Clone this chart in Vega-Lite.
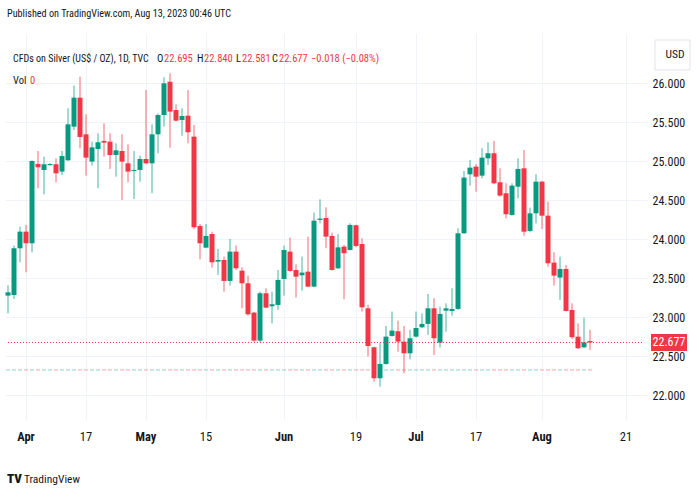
{
  "$schema": "https://vega.github.io/schema/vega-lite/v6.json",
  "width": 642,
  "height": 387,
  "autosize": {"type": "none"},
  "padding": {"left": 5, "top": 33, "right": 53, "bottom": 80},
  "background": "white",
  "config": {"view": {"stroke": null}, "font": "Liberation Sans Narrow, Roboto Condensed, DejaVu Sans Condensed, Liberation Sans, sans-serif"},
  "title": {"text": "Published on TradingView.com, Aug 13, 2023 00:46 UTC", "anchor": "start", "frame": "group", "offset": 6, "baseline": "alphabetic", "fontSize": 10.2, "fontWeight": "normal", "color": "#131722", "dx": 2},
  "data": {"values": [
    {"d":"2023-03-29","o":23.278,"h":23.41,"l":23.05,"c":23.32},
    {"d":"2023-03-30","o":23.286,"h":23.919,"l":23.235,"c":23.885},
    {"d":"2023-03-31","o":23.885,"h":24.162,"l":23.705,"c":24.098},
    {"d":"2023-04-03","o":24.098,"h":24.184,"l":23.577,"c":23.949},
    {"d":"2023-04-04","o":23.949,"h":25.013,"l":23.833,"c":25.004},
    {"d":"2023-04-05","o":24.966,"h":25.132,"l":24.654,"c":24.923},
    {"d":"2023-04-06","o":24.889,"h":25.06,"l":24.577,"c":24.962},
    {"d":"2023-04-07","o":24.95,"h":24.975,"l":24.945,"c":24.965},
    {"d":"2023-04-10","o":24.962,"h":25.038,"l":24.731,"c":24.846},
    {"d":"2023-04-11","o":24.868,"h":25.132,"l":24.825,"c":25.068},
    {"d":"2023-04-12","o":25.013,"h":25.679,"l":25.004,"c":25.474},
    {"d":"2023-04-13","o":25.444,"h":25.97,"l":25.402,"c":25.816},
    {"d":"2023-04-14","o":25.816,"h":26.085,"l":25.167,"c":25.312},
    {"d":"2023-04-17","o":25.346,"h":25.603,"l":24.816,"c":25.047},
    {"d":"2023-04-18","o":24.996,"h":25.252,"l":24.944,"c":25.179},
    {"d":"2023-04-19","o":25.158,"h":25.359,"l":24.654,"c":25.244},
    {"d":"2023-04-20","o":25.261,"h":25.487,"l":25.06,"c":25.239},
    {"d":"2023-04-21","o":25.252,"h":25.359,"l":24.902,"c":25.081},
    {"d":"2023-04-24","o":25.081,"h":25.231,"l":24.803,"c":25.141},
    {"d":"2023-04-25","o":25.132,"h":25.346,"l":24.504,"c":24.996},
    {"d":"2023-04-26","o":24.974,"h":25.218,"l":24.731,"c":24.868},
    {"d":"2023-04-27","o":24.876,"h":25.132,"l":24.517,"c":24.889},
    {"d":"2023-04-28","o":24.889,"h":25.073,"l":24.739,"c":25.03},
    {"d":"2023-05-01","o":25.03,"h":25.915,"l":24.962,"c":24.974},
    {"d":"2023-05-02","o":24.974,"h":25.474,"l":24.59,"c":25.346},
    {"d":"2023-05-03","o":25.346,"h":25.615,"l":25.103,"c":25.594},
    {"d":"2023-05-04","o":25.594,"h":26.077,"l":25.444,"c":26.0},
    {"d":"2023-05-05","o":26.02,"h":26.128,"l":25.175,"c":25.637},
    {"d":"2023-05-08","o":25.658,"h":25.731,"l":25.509,"c":25.521},
    {"d":"2023-05-09","o":25.53,"h":25.679,"l":25.329,"c":25.581},
    {"d":"2023-05-10","o":25.585,"h":25.915,"l":25.231,"c":25.372},
    {"d":"2023-05-11","o":25.316,"h":25.466,"l":24.132,"c":24.154},
    {"d":"2023-05-12","o":24.171,"h":24.197,"l":23.744,"c":23.949},
    {"d":"2023-05-15","o":23.893,"h":24.197,"l":23.885,"c":24.043},
    {"d":"2023-05-16","o":24.068,"h":24.098,"l":23.637,"c":23.705},
    {"d":"2023-05-17","o":23.714,"h":23.876,"l":23.543,"c":23.735},
    {"d":"2023-05-18","o":23.735,"h":23.778,"l":23.329,"c":23.466},
    {"d":"2023-05-19","o":23.466,"h":24.004,"l":23.406,"c":23.842},
    {"d":"2023-05-22","o":23.842,"h":23.919,"l":23.607,"c":23.628},
    {"d":"2023-05-23","o":23.598,"h":23.641,"l":23.115,"c":23.436},
    {"d":"2023-05-24","o":23.436,"h":23.534,"l":23.021,"c":23.038},
    {"d":"2023-05-25","o":23.06,"h":23.07,"l":22.688,"c":22.701},
    {"d":"2023-05-26","o":22.701,"h":23.329,"l":22.679,"c":23.308},
    {"d":"2023-05-29","o":23.308,"h":23.372,"l":23.115,"c":23.124},
    {"d":"2023-05-30","o":23.141,"h":23.329,"l":22.923,"c":23.167},
    {"d":"2023-05-31","o":23.158,"h":23.607,"l":23.094,"c":23.479},
    {"d":"2023-06-01","o":23.491,"h":23.919,"l":23.278,"c":23.863},
    {"d":"2023-06-02","o":23.842,"h":24.021,"l":23.585,"c":23.594},
    {"d":"2023-06-05","o":23.607,"h":23.679,"l":23.252,"c":23.521},
    {"d":"2023-06-06","o":23.538,"h":23.778,"l":23.342,"c":23.573},
    {"d":"2023-06-07","o":23.585,"h":24.034,"l":23.385,"c":23.393},
    {"d":"2023-06-08","o":23.393,"h":24.342,"l":23.385,"c":24.239},
    {"d":"2023-06-09","o":24.248,"h":24.513,"l":24.205,"c":24.265},
    {"d":"2023-06-12","o":24.274,"h":24.41,"l":23.885,"c":24.034},
    {"d":"2023-06-13","o":24.043,"h":24.085,"l":23.598,"c":23.607},
    {"d":"2023-06-14","o":23.628,"h":24.068,"l":23.62,"c":23.897},
    {"d":"2023-06-15","o":23.906,"h":23.927,"l":23.231,"c":23.821},
    {"d":"2023-06-16","o":23.863,"h":24.205,"l":23.855,"c":24.184},
    {"d":"2023-06-19","o":24.18,"h":24.188,"l":23.897,"c":23.915},
    {"d":"2023-06-20","o":23.94,"h":24.013,"l":23.072,"c":23.128},
    {"d":"2023-06-21","o":23.115,"h":23.158,"l":22.496,"c":22.632},
    {"d":"2023-06-22","o":22.615,"h":22.624,"l":22.175,"c":22.218},
    {"d":"2023-06-23","o":22.218,"h":22.675,"l":22.111,"c":22.402},
    {"d":"2023-06-26","o":22.402,"h":22.889,"l":22.39,"c":22.752},
    {"d":"2023-06-27","o":22.761,"h":23.073,"l":22.752,"c":22.829},
    {"d":"2023-06-28","o":22.821,"h":22.957,"l":22.56,"c":22.688},
    {"d":"2023-06-29","o":22.688,"h":22.889,"l":22.282,"c":22.538},
    {"d":"2023-06-30","o":22.538,"h":22.838,"l":22.462,"c":22.731},
    {"d":"2023-07-03","o":22.752,"h":23.073,"l":22.74,"c":22.863},
    {"d":"2023-07-04","o":22.872,"h":23.051,"l":22.86,"c":22.915},
    {"d":"2023-07-05","o":22.915,"h":23.299,"l":22.774,"c":23.115},
    {"d":"2023-07-06","o":23.115,"h":23.244,"l":22.517,"c":22.731},
    {"d":"2023-07-07","o":22.675,"h":23.137,"l":22.615,"c":23.043},
    {"d":"2023-07-10","o":23.085,"h":23.179,"l":22.816,"c":23.115},
    {"d":"2023-07-11","o":23.081,"h":23.372,"l":23.021,"c":23.107},
    {"d":"2023-07-12","o":23.107,"h":24.141,"l":23.094,"c":24.077},
    {"d":"2023-07-13","o":24.077,"h":24.876,"l":24.07,"c":24.791},
    {"d":"2023-07-14","o":24.833,"h":25.017,"l":24.688,"c":24.919},
    {"d":"2023-07-17","o":24.932,"h":24.962,"l":24.611,"c":24.803},
    {"d":"2023-07-18","o":24.816,"h":25.167,"l":24.782,"c":25.047},
    {"d":"2023-07-19","o":25.038,"h":25.244,"l":24.953,"c":25.103},
    {"d":"2023-07-20","o":25.103,"h":25.261,"l":24.706,"c":24.718},
    {"d":"2023-07-21","o":24.731,"h":24.91,"l":24.547,"c":24.56},
    {"d":"2023-07-24","o":24.59,"h":24.718,"l":24.269,"c":24.321},
    {"d":"2023-07-25","o":24.312,"h":24.718,"l":24.303,"c":24.688},
    {"d":"2023-07-26","o":24.675,"h":25.038,"l":24.526,"c":24.902},
    {"d":"2023-07-27","o":24.91,"h":25.145,"l":24.047,"c":24.098},
    {"d":"2023-07-28","o":24.107,"h":24.406,"l":24.09,"c":24.333},
    {"d":"2023-07-31","o":24.333,"h":24.833,"l":24.205,"c":24.739},
    {"d":"2023-08-01","o":24.739,"h":24.748,"l":24.132,"c":24.303},
    {"d":"2023-08-02","o":24.303,"h":24.483,"l":23.65,"c":23.692},
    {"d":"2023-08-03","o":23.701,"h":23.833,"l":23.406,"c":23.534},
    {"d":"2023-08-04","o":23.509,"h":23.778,"l":23.222,"c":23.62},
    {"d":"2023-08-07","o":23.62,"h":23.671,"l":23.075,"c":23.081},
    {"d":"2023-08-08","o":23.094,"h":23.179,"l":22.722,"c":22.744},
    {"d":"2023-08-09","o":22.752,"h":22.923,"l":22.594,"c":22.603},
    {"d":"2023-08-10","o":22.615,"h":22.996,"l":22.603,"c":22.679},
    {"d":"2023-08-11","o":22.695,"h":22.84,"l":22.581,"c":22.677}
  ]},
  "layer": [
    {
      "encoding": {
        "x": {
          "field": "d", "type": "ordinal",
          "scale": {"paddingInner": 0, "paddingOuter": 0, "domain": [
            "2023-03-29","2023-03-30","2023-03-31",
            "2023-04-03","2023-04-04","2023-04-05","2023-04-06","2023-04-07","2023-04-10","2023-04-11","2023-04-12","2023-04-13","2023-04-14","2023-04-17","2023-04-18","2023-04-19","2023-04-20","2023-04-21","2023-04-24","2023-04-25","2023-04-26","2023-04-27","2023-04-28",
            "2023-05-01","2023-05-02","2023-05-03","2023-05-04","2023-05-05","2023-05-08","2023-05-09","2023-05-10","2023-05-11","2023-05-12","2023-05-15","2023-05-16","2023-05-17","2023-05-18","2023-05-19","2023-05-22","2023-05-23","2023-05-24","2023-05-25","2023-05-26","2023-05-29","2023-05-30","2023-05-31",
            "2023-06-01","2023-06-02","2023-06-05","2023-06-06","2023-06-07","2023-06-08","2023-06-09","2023-06-12","2023-06-13","2023-06-14","2023-06-15","2023-06-16","2023-06-19","2023-06-20","2023-06-21","2023-06-22","2023-06-23","2023-06-26","2023-06-27","2023-06-28","2023-06-29","2023-06-30",
            "2023-07-03","2023-07-04","2023-07-05","2023-07-06","2023-07-07","2023-07-10","2023-07-11","2023-07-12","2023-07-13","2023-07-14","2023-07-17","2023-07-18","2023-07-19","2023-07-20","2023-07-21","2023-07-24","2023-07-25","2023-07-26","2023-07-27","2023-07-28","2023-07-31",
            "2023-08-01","2023-08-02","2023-08-03","2023-08-04","2023-08-07","2023-08-08","2023-08-09","2023-08-10","2023-08-11","2023-08-14","2023-08-15","2023-08-16","2023-08-17","2023-08-18","2023-08-21","2023-08-22","2023-08-23","2023-08-24"
          ]},
          "axis": {
            "values": ["2023-04-03","2023-04-17","2023-05-01","2023-05-15","2023-06-01","2023-06-19","2023-07-03","2023-07-17","2023-08-01","2023-08-21"],
            "labelExpr": "datum.value=='2023-04-03'?'Apr':datum.value=='2023-05-01'?'May':datum.value=='2023-06-01'?'Jun':datum.value=='2023-07-03'?'Jul':datum.value=='2023-08-01'?'Aug':slice(datum.value,8)",
            "labelFontWeight": {"condition": {"test": "indexof(['2023-04-03','2023-05-01','2023-06-01','2023-07-03','2023-08-01'], datum.value) >= 0", "value": "bold"}, "value": "normal"},
            "title": null, "domain": false, "ticks": false, "tickSize": 0,
            "grid": true, "gridColor": "#f0f3fa", "gridOpacity": 1, "bandPosition": 0.5,
            "labelAngle": 0, "labelPadding": 10, "labelFontSize": 12.5, "labelColor": "#131722"
          }
        }
      },
      "layer": [
        {
          "mark": {"type": "tick", "size": 4, "thickness": 1, "opacity": 0.45},
          "encoding": {
            "y": {"datum": 22.325, "type": "quantitative", "scale": {"domain": [21.683, 26.645], "nice": false, "zero": false},
              "axis": {"values": [22, 22.5, 23, 23.5, 24, 24.5, 25, 25.5, 26], "format": ".3f", "orient": "right", "title": null, "domain": false, "ticks": false, "tickSize": 0, "labelPadding": 5, "grid": true, "gridColor": "#f0f3fa", "gridOpacity": 1, "labelFontSize": 12, "labelColor": "#131722"}},
            "color": {"condition": {"test": "datum.c >= datum.o", "value": "#089981"}, "value": "#f23645"}
          }
        },
        {
          "mark": {"type": "rule", "strokeWidth": 1, "opacity": 0.75},
          "encoding": {
            "y": {"field": "l", "type": "quantitative", "scale": {"domain": [21.683, 26.645], "nice": false, "zero": false}},
            "y2": {"field": "h"},
            "color": {"condition": {"test": "datum.c >= datum.o", "value": "#089981"}, "value": "#f23645"}
          }
        },
        {
          "mark": {"type": "bar", "width": 5},
          "encoding": {
            "y": {"field": "o", "type": "quantitative", "scale": {"domain": [21.683, 26.645], "nice": false, "zero": false}},
            "y2": {"field": "c"},
            "color": {"condition": {"test": "datum.c >= datum.o", "value": "#089981"}, "value": "#f23645"}
          }
        }
      ]
    },
    {
      "data": {"values": [{}]},
      "mark": {"type": "rule", "strokeDash": [1, 2], "color": "#f23645", "strokeWidth": 1},
      "encoding": {
        "x": {"datum": "2023-03-29", "type": "ordinal"},
        "x2": {"datum": "2023-08-24"},
        "y": {"datum": 22.677, "type": "quantitative"}
      }
    },
    {
      "data": {"values": [{}]},
      "mark": {"type": "text", "text": "CFDs on Silver (US$ / OZ), 1D, TVC", "align": "left", "baseline": "alphabetic", "dx": 5, "fontSize": 10, "color": "#131722"},
      "encoding": {"x": {"datum": "2023-03-29", "type": "ordinal"}, "y": {"datum": 26.273, "type": "quantitative"}}
    },
    {
      "data": {"values": [{}]},
      "mark": {"type": "text", "text": "O", "align": "left", "baseline": "alphabetic", "dx": 149, "fontSize": 10.5, "color": "#131722"},
      "encoding": {"x": {"datum": "2023-03-29", "type": "ordinal"}, "y": {"datum": 26.273, "type": "quantitative"}}
    },
    {
      "data": {"values": [{}]},
      "mark": {"type": "text", "text": "22.695", "align": "left", "baseline": "alphabetic", "dx": 156, "fontSize": 10.5, "color": "#f23645"},
      "encoding": {"x": {"datum": "2023-03-29", "type": "ordinal"}, "y": {"datum": 26.273, "type": "quantitative"}}
    },
    {
      "data": {"values": [{}]},
      "mark": {"type": "text", "text": "H", "align": "left", "baseline": "alphabetic", "dx": 189, "fontSize": 10.5, "color": "#131722"},
      "encoding": {"x": {"datum": "2023-03-29", "type": "ordinal"}, "y": {"datum": 26.273, "type": "quantitative"}}
    },
    {
      "data": {"values": [{}]},
      "mark": {"type": "text", "text": "22.840", "align": "left", "baseline": "alphabetic", "dx": 196, "fontSize": 10.5, "color": "#f23645"},
      "encoding": {"x": {"datum": "2023-03-29", "type": "ordinal"}, "y": {"datum": 26.273, "type": "quantitative"}}
    },
    {
      "data": {"values": [{}]},
      "mark": {"type": "text", "text": "L", "align": "left", "baseline": "alphabetic", "dx": 228, "fontSize": 10.5, "color": "#131722"},
      "encoding": {"x": {"datum": "2023-03-29", "type": "ordinal"}, "y": {"datum": 26.273, "type": "quantitative"}}
    },
    {
      "data": {"values": [{}]},
      "mark": {"type": "text", "text": "22.581", "align": "left", "baseline": "alphabetic", "dx": 234, "fontSize": 10.5, "color": "#f23645"},
      "encoding": {"x": {"datum": "2023-03-29", "type": "ordinal"}, "y": {"datum": 26.273, "type": "quantitative"}}
    },
    {
      "data": {"values": [{}]},
      "mark": {"type": "text", "text": "C", "align": "left", "baseline": "alphabetic", "dx": 264, "fontSize": 10.5, "color": "#131722"},
      "encoding": {"x": {"datum": "2023-03-29", "type": "ordinal"}, "y": {"datum": 26.273, "type": "quantitative"}}
    },
    {
      "data": {"values": [{}]},
      "mark": {"type": "text", "text": "22.677", "align": "left", "baseline": "alphabetic", "dx": 271, "fontSize": 10.5, "color": "#f23645"},
      "encoding": {"x": {"datum": "2023-03-29", "type": "ordinal"}, "y": {"datum": 26.273, "type": "quantitative"}}
    },
    {
      "data": {"values": [{}]},
      "mark": {"type": "text", "text": "−0.018 (−0.08%)", "align": "left", "baseline": "alphabetic", "dx": 303, "fontSize": 10.5, "color": "#f23645"},
      "encoding": {"x": {"datum": "2023-03-29", "type": "ordinal"}, "y": {"datum": 26.273, "type": "quantitative"}}
    },
    {
      "data": {"values": [{}]},
      "mark": {"type": "text", "text": "Vol", "align": "left", "baseline": "alphabetic", "dx": 5, "fontSize": 10.5, "color": "#131722"},
      "encoding": {"x": {"datum": "2023-03-29", "type": "ordinal"}, "y": {"datum": 25.985, "type": "quantitative"}}
    },
    {
      "data": {"values": [{}]},
      "mark": {"type": "text", "text": "0", "align": "left", "baseline": "alphabetic", "dx": 22, "fontSize": 10.5, "color": "#f23645"},
      "encoding": {"x": {"datum": "2023-03-29", "type": "ordinal"}, "y": {"datum": 25.985, "type": "quantitative"}}
    },
    {
      "data": {"values": [{}]},
      "mark": {"type": "point", "shape": "M0.14,-0.17H0.86V0.17H0.14Z", "size": 10000, "filled": true, "color": "#f23645", "opacity": 1, "strokeWidth": 0},
      "encoding": {"x": {"datum": "2023-08-24", "type": "ordinal"}, "y": {"datum": 22.677, "type": "quantitative"}}
    },
    {
      "data": {"values": [{}]},
      "mark": {"type": "text", "text": "22.677", "align": "center", "baseline": "middle", "dx": 25, "fontSize": 12, "color": "white"},
      "encoding": {"x": {"datum": "2023-08-24", "type": "ordinal"}, "y": {"datum": 22.677, "type": "quantitative"}}
    },
    {
      "data": {"values": [{}]},
      "mark": {"type": "point", "shape": "M0.22,-0.3H0.92V0.3H0.22Z", "size": 10000, "filled": true, "fill": "white", "stroke": "#e0e3eb", "strokeWidth": 1, "opacity": 1},
      "encoding": {"x": {"datum": "2023-08-24", "type": "ordinal"}, "y": {"datum": 26.363, "type": "quantitative"}}
    },
    {
      "data": {"values": [{}]},
      "mark": {"type": "text", "text": "USD", "align": "center", "baseline": "middle", "dx": 31, "fontSize": 11.5, "color": "#131722"},
      "encoding": {"x": {"datum": "2023-08-24", "type": "ordinal"}, "y": {"datum": 26.363, "type": "quantitative"}}
    },
    {
      "data": {"values": [{}]},
      "mark": {"type": "text", "text": "TV", "align": "left", "baseline": "alphabetic", "dx": -1, "fontSize": 13, "fontWeight": 900, "color": "#131722"},
      "encoding": {"x": {"datum": "2023-03-29", "type": "ordinal"}, "y": {"datum": 20.876, "type": "quantitative"}}
    },
    {
      "data": {"values": [{}]},
      "mark": {"type": "text", "text": "TradingView", "align": "left", "baseline": "alphabetic", "dx": 16, "fontSize": 11.5, "color": "#131722"},
      "encoding": {"x": {"datum": "2023-03-29", "type": "ordinal"}, "y": {"datum": 20.876, "type": "quantitative"}}
    }
  ]
}
